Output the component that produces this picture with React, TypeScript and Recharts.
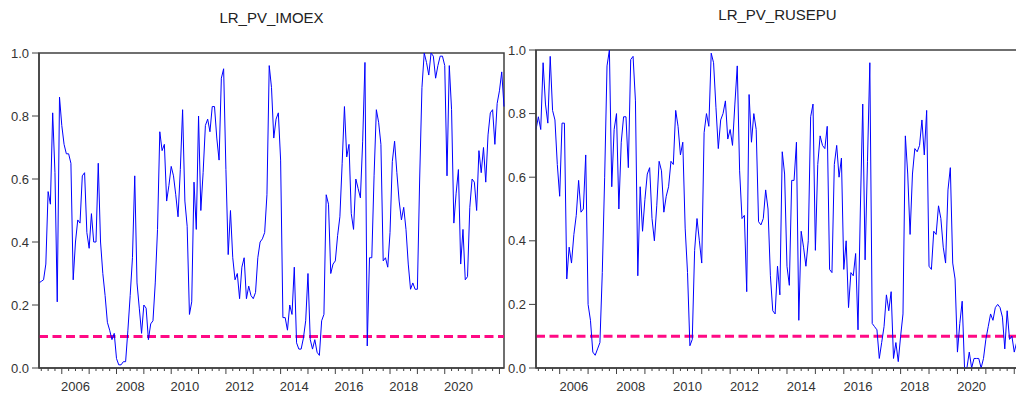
import { LineChart, Line, XAxis, YAxis, ReferenceLine, ReferenceArea } from "recharts";

// monthly observations, first one is 2005M03
const imoexValues = [
  0.27, 0.275, 0.28, 0.33, 0.56, 0.52, 0.81, 0.62, 0.21, 0.86,
  0.77, 0.71, 0.68, 0.68, 0.65, 0.28, 0.4, 0.47, 0.46, 0.61,
  0.62, 0.43, 0.38, 0.49, 0.4, 0.4, 0.65, 0.4, 0.3, 0.23,
  0.145, 0.12, 0.09, 0.11, 0.03, 0.01, 0.01, 0.02, 0.02, 0.12,
  0.23, 0.35, 0.61, 0.27, 0.19, 0.11, 0.2, 0.19, 0.09, 0.14,
  0.15, 0.27, 0.44, 0.75, 0.69, 0.71, 0.53, 0.58, 0.64, 0.61,
  0.55, 0.48, 0.63, 0.82, 0.53, 0.45, 0.17, 0.21, 0.59, 0.44,
  0.8, 0.5, 0.62, 0.77, 0.79, 0.75, 0.83, 0.83, 0.73, 0.66,
  0.92, 0.95, 0.63, 0.36, 0.5, 0.35, 0.28, 0.3, 0.22, 0.32,
  0.35, 0.22, 0.26, 0.23, 0.22, 0.24, 0.35, 0.4, 0.41,
  0.43, 0.55, 0.96, 0.89, 0.73, 0.79, 0.81, 0.66, 0.16, 0.16,
  0.12, 0.2, 0.17, 0.32, 0.08, 0.06, 0.06, 0.095, 0.15, 0.3,
  0.09, 0.06, 0.09, 0.05, 0.04, 0.15, 0.17, 0.55, 0.52, 0.3,
  0.33, 0.34, 0.42, 0.48, 0.65, 0.83, 0.67, 0.71, 0.49, 0.44,
  0.6, 0.57, 0.54, 0.72, 0.97, 0.07, 0.35, 0.35, 0.61, 0.82,
  0.78, 0.71, 0.34, 0.35, 0.32, 0.43, 0.655, 0.72, 0.62, 0.53,
  0.47, 0.51, 0.44, 0.33, 0.25, 0.27, 0.25, 0.25, 0.6, 0.89,
  1.0, 0.97, 0.93, 1.0, 0.99, 0.92, 0.96, 0.99, 0.99, 0.96,
  0.61, 0.96, 0.82, 0.46, 0.555, 0.63, 0.33, 0.44, 0.28, 0.29,
  0.51, 0.6, 0.59, 0.5, 0.69, 0.62, 0.7, 0.59, 0.74, 0.81,
  0.82, 0.71, 0.84, 0.88, 0.94, 0.83,
];

const rusepuValues = [
  0.75, 0.79, 0.75, 0.96, 0.83, 0.77, 0.98, 0.81, 0.78, 0.64,
  0.54, 0.77, 0.77, 0.28, 0.38, 0.33, 0.42, 0.48, 0.59, 0.49,
  0.5, 0.67, 0.2, 0.15, 0.05, 0.04, 0.06, 0.08, 0.3, 0.6,
  0.95, 1.0, 0.57, 0.75, 0.8, 0.5, 0.71, 0.79, 0.79, 0.63,
  0.97, 0.98, 0.84, 0.29, 0.57, 0.43, 0.53, 0.61, 0.63, 0.47,
  0.4, 0.51, 0.65, 0.62, 0.49, 0.54, 0.57, 0.65, 0.64, 0.81,
  0.76, 0.67, 0.71, 0.44, 0.3, 0.07, 0.09, 0.37, 0.47, 0.4,
  0.33, 0.74, 0.8, 0.76, 0.99, 0.96, 0.82, 0.69, 0.78, 0.8,
  0.84, 0.72, 0.75, 0.7, 0.83, 0.95, 0.62, 0.47, 0.48, 0.24,
  0.86, 0.71, 0.8, 0.75, 0.46,
  0.45, 0.47, 0.56, 0.5, 0.29, 0.18, 0.17, 0.32, 0.23, 0.68,
  0.61, 0.32, 0.26, 0.59, 0.59, 0.71, 0.15, 0.43, 0.38, 0.32,
  0.4, 0.79, 0.83, 0.37, 0.64, 0.73, 0.7, 0.69, 0.76, 0.31,
  0.3, 0.64, 0.7, 0.6, 0.66, 0.31, 0.4, 0.19, 0.3, 0.29,
  0.36, 0.12, 0.5, 0.83, 0.34, 0.65, 0.96, 0.14, 0.13, 0.12,
  0.03, 0.08, 0.13, 0.23, 0.18, 0.24, 0.03, 0.08, 0.02, 0.1,
  0.17, 0.73, 0.61, 0.42, 0.61, 0.69, 0.68, 0.7, 0.78, 0.67,
  0.81, 0.32, 0.31, 0.43, 0.42, 0.51,
  0.47, 0.38, 0.33, 0.56, 0.63, 0.33, 0.28, 0.05, 0.14, 0.21,
  0.0, 0.0, 0.05, 0.0, 0.03, 0.03, 0.03, 0.0, 0.03, 0.09,
  0.13, 0.17, 0.15, 0.19, 0.2, 0.19, 0.16, 0.06, 0.18, 0.09,
  0.1, 0.05, 0.08, 0.09,
];

const yearLabels = [2006, 2008, 2010, 2012, 2014, 2016, 2018, 2020];
const yTicks = [0, 0.2, 0.4, 0.6, 0.8, 1.0];
const threshold = 0.1;

const START_YEAR = 2005;
const START_MONTH = 3;
const AXIS = "#404040";
const TEXT = "#333";

const toRows = (values: number[]) => values.map((v, i) => ({ i, v }));

const XTick = (props: any) => {
  const { x, y, payload } = props;
  const t = payload.value;
  const m = (t + START_MONTH - 1) % 12;
  const year = START_YEAR + Math.floor((t + START_MONTH - 1) / 12);
  const showLabel = m === 6 && yearLabels.includes(year);
  return (
    <g>
      <line x1={x} x2={x} y1={y} y2={y + (m === 0 ? 6 : 3)} stroke={AXIS} strokeWidth={1} />
      {showLabel && (
        <text x={x} y={y + 23} textAnchor="middle" fontSize={13} fill={TEXT}>
          {year}
        </text>
      )}
    </g>
  );
};

const Panel = ({
  values,
  title,
  left,
  top,
  width,
  titleY,
}: {
  values: number[];
  title: string;
  left: number;
  top: number;
  width: number;
  titleY: number;
}) => {
  const data = toRows(values);
  const last = values.length - 1;
  const quarterTicks: number[] = [];
  for (let t = 1; t <= last; t += 3) quarterTicks.push(t);
  const plotLeft = left + 39;
  const plotRight = left + width - 6;
  return (
    <>
      <div
        style={{
          position: "absolute",
          left: plotLeft,
          width: plotRight - plotLeft,
          top: titleY - 9,
          textAlign: "center",
          fontSize: 15,
          color: "#222",
          lineHeight: "18px",
        }}
      >
        {title}
      </div>
      <div style={{ position: "absolute", left, top: 0 }}>
        <LineChart width={width} height={397} data={data} margin={{ top, right: 6, bottom: 0, left: 0 }}>
          <XAxis
            dataKey="i"
            type="number"
            domain={[0, last]}
            ticks={quarterTicks}
            interval={0}
            tickSize={0}
            tickMargin={0}
            tickLine={false}
            tick={<XTick />}
            height={29}
            axisLine={{ stroke: AXIS, strokeWidth: 1.5 }}
          />
          <YAxis
            type="number"
            domain={[0, 1]}
            ticks={yTicks}
            width={39}
            tickSize={7}
            tickMargin={3}
            tickFormatter={(v: number) => v.toFixed(1)}
            tick={{ fontSize: 13, fill: TEXT }}
            tickLine={{ stroke: AXIS }}
            axisLine={{ stroke: AXIS, strokeWidth: 1.5 }}
          />
          <ReferenceArea x1={0} x2={last} y1={0} y2={1} fill="none" stroke={AXIS} strokeWidth={1.5} />
          <ReferenceLine y={threshold} stroke="#FF0A85" strokeWidth={3} strokeDasharray="9 4.5" />
          <Line type="linear" dataKey="v" stroke="#0000FF" strokeWidth={1} dot={false} isAnimationActive={false} />
        </LineChart>
      </div>
    </>
  );
};

export default function App() {
  return (
    <div
      style={{
        position: "absolute",
        left: 0,
        top: 0,
        width: 1016,
        height: 397,
        overflow: "hidden",
        background: "#fff",
        fontFamily: "'Liberation Sans', Arial, sans-serif",
      }}
    >
      <Panel values={imoexValues} title="LR_PV_IMOEX" left={0} top={53} width={510} titleY={18} />
      <Panel values={rusepuValues} title="LR_PV_RUSEPU" left={497} top={50} width={528} titleY={15} />
    </div>
  );
}
